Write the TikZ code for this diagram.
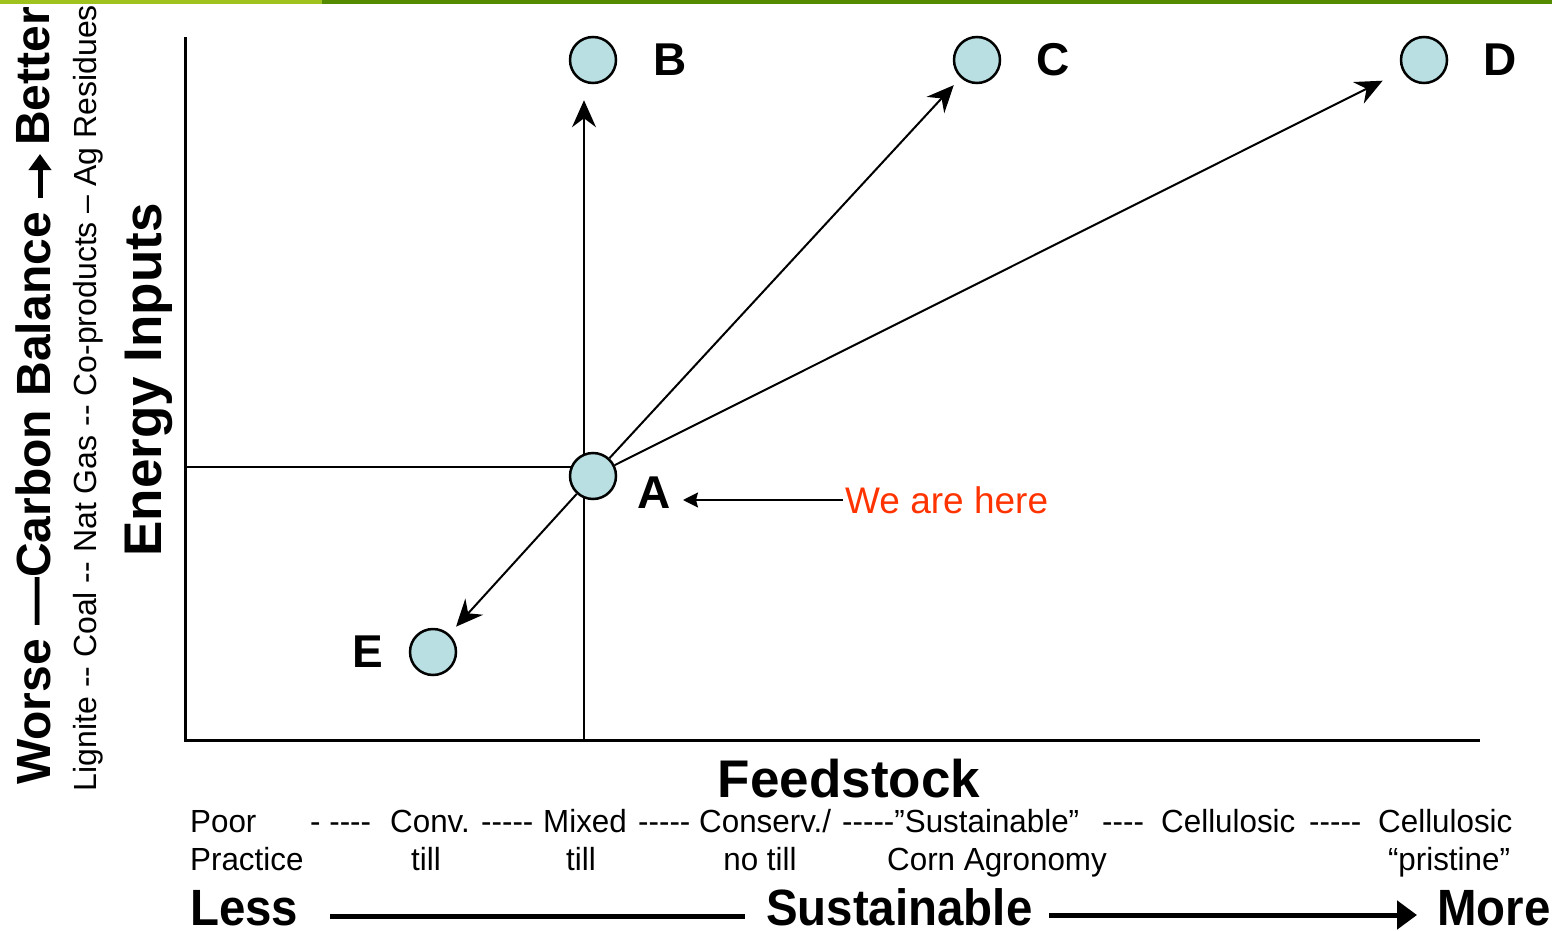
\documentclass[tikz,border=0pt]{standalone}
\usepackage{fontspec}
\setmainfont{Liberation Sans}[Ligatures=TeXOff]
\newfontfamily\condfont{Liberation Sans}[Ligatures=TeXOff,FakeStretch=0.98]
\newfontfamily\boldcondfont{Liberation Sans}[Ligatures=TeXOff,FakeStretch=0.93]
\usetikzlibrary{arrows.meta,backgrounds}
\definecolor{DotClr}{RGB}{185,223,227}
\definecolor{HereClr}{RGB}{255,51,0}
\definecolor{BarClr}{RGB}{84,138,0}
\definecolor{BarLightClr}{RGB}{160,194,31}

\tikzset{
  dot/.style={circle,draw,line width=2.5pt,fill=DotClr,minimum size=46pt,inner sep=0pt},
  letter/.style={inner sep=0pt,font=\fontsize{46}{46}\selectfont\bfseries},
  arr/.style={line width=2pt,-{Stealth[length=27pt,width=24pt,inset=9pt]}},
  thin/.style={line width=2pt},
  axis/.style={line width=3pt},
  title/.style={inner sep=0pt,font=\fontsize{53}{53}\selectfont\bfseries},
  row/.style={inner sep=0pt,anchor=base west,font=\fontsize{32}{32}\selectfont\condfont},
  rowc/.style={row,anchor=base},
  big/.style={inner sep=0pt,anchor=base west,font=\fontsize{51}{51}\selectfont\boldcondfont\bfseries},
  carbon/.style={inner sep=0pt,rotate=90,font=\fontsize{48}{48}\selectfont\bfseries},
}

\begin{document}
\begin{tikzpicture}[x=1pt,y=-1pt]
\useasboundingbox (0,0) rectangle (1552,931);

% bar along the top
\fill[BarLightClr] (0,0) rectangle (322,4);
\fill[BarClr] (322,0) rectangle (1552,4);

% axes
\coordinate (O) at (185,740);
\coordinate (ytop) at (185,37);
\coordinate (xend) at (1480,740);
\draw[axis] (ytop) -- (O) -- (xend);

% points
\node[dot] (A) at (593,476) {};
\node[dot] (B) at (593,60) {};
\node[dot] (C) at (977,60) {};
\node[dot] (D) at (1424,60) {};
\node[dot] (E) at (433,652) {};

\node[letter] (lA) at (654,493) {A};
\node[letter] (lB) at (670,60) {B};
\node[letter] (lC) at (1053,60) {C};
\node[letter] (lD) at (1500,60) {D};
\node[letter] (lE) at (368,652) {E};

% cross lines through A
\coordinate (hl) at (185,467);
\coordinate (vb) at (584,740);
\begin{pgfonlayer}{background}
\draw[thin] (hl) -- (hl -| A);
\draw[arr,shorten >=16pt] (vb) -- (vb |- B.south);
\end{pgfonlayer}

\draw[arr,shorten >=10pt] (A) -- (C);
\draw[arr,shorten >=22pt] (A) -- (D);
\draw[arr,shorten >=10pt] (A) -- (E);

% we are here
\node[inner sep=2pt,anchor=west,text=HereClr,font=\fontsize{37}{37}\selectfont] (here) at (843,500) {We are here};
\coordinate (tipA) at (683,500);
\draw[thin,-{Stealth[length=15pt,width=15pt,inset=2pt]}] (here.west) -- (tipA);

% vertical axis labels
\node[carbon,anchor=west] (carbon) at (33,785) {Worse —Carbon Balance};
\node[carbon,anchor=east] (better) at (33,7) {Better};
\coordinate (cb1) at (40,198);
\coordinate (cb2) at (40,154);
\draw[line width=5pt,-{Triangle[length=16pt,width=22pt]}] (cb1) -- (cb2);
\node[inner sep=0pt,rotate=90,font=\fontsize{32}{32}\selectfont] (fuels) at (88,398) {Lignite -- Coal -- Nat Gas -- Co-products – Ag Residues};
\node[title,rotate=90] (energy) at (149,380) {Energy Inputs};

% horizontal axis labels
\node[title] (feed) at (849,779) {Feedstock};

\node[row] (r1) at (190,832) {Poor};
\node[row] at (310,832) {- ----};
\node[row] (r2) at (390,832) {Conv.};
\node[row] at (481,832) {-----};
\node[row] (r3) at (543,832) {Mixed};
\node[row] at (638,832) {-----};
\node[row] (r4) at (699,832) {Conserv./};
\node[row] (r5) at (842,832) {-----”Sustainable”};
\node[row] at (1102,832) {----};
\node[row] (r6) at (1161,832) {Cellulosic};
\node[row] at (1309,832) {-----};
\node[row] (r7) at (1378,832) {Cellulosic};

\node[row] (s1) at (190,870) {Practice};
\node[rowc] (s2) at (426,870) {till};
\node[rowc] (s3) at (581,870) {till};
\node[rowc] (s4) at (760,870) {no till};
\node[rowc] (s5) at (997,870) {Corn Agronomy};
\node[rowc] (s7) at (1449,870) {“pristine”};

\node[big] (less) at (190,925) {Less};
\node[big] (sust) at (766,925) {Sustainable};
\node[big] (more) at (1437,925) {More};
\coordinate (l1) at (330,916);
\coordinate (l2) at (745,916);
\coordinate (l3) at (1049,915);
\coordinate (l4) at (1417,915);
\draw[line width=5pt] (l1) -- (l2);
\draw[line width=5pt,-{Triangle[length=20pt,width=28pt]}] (l3) -- (l4);

\end{tikzpicture}
\end{document}
